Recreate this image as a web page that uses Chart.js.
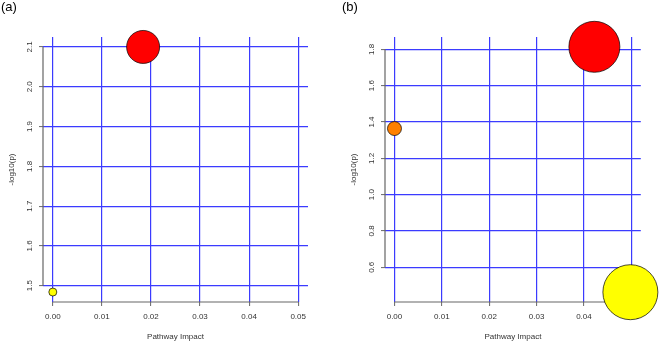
<!DOCTYPE html>
<html>
<head>
<meta charset="utf-8">
<script src="https://cdn.jsdelivr.net/npm/chart.js@4"></script>
<style>
  body { margin: 0; background: #fff; }
  .panel { position: absolute; top: 0; width: 334px; height: 342px; }
  .tag { position: absolute; top: -1px; font: 13px "Liberation Sans", Arial, sans-serif; color: #000; }
</style>
</head>
<body>
<div class="panel" style="left:0"><canvas id="chartA" width="334" height="342"></canvas></div>
<div class="panel" style="left:335px"><canvas id="chartB" width="334" height="342"></canvas></div>
<div class="tag" style="left:1px">(a)</div>
<div class="tag" style="left:342px">(b)</div>
<script>
// panel (a)
const impactA = [0.0, 0.0184];
const logpA = [1.484, 2.1];
const xTicksA = [0, 0.01, 0.02, 0.03, 0.04, 0.05];
const yTicksA = [1.5, 1.6, 1.7, 1.8, 1.9, 2.0, 2.1];

// panel (b)
const impactB = [0.0, 0.0422, 0.0498];
const logpB = [1.364, 1.814, 0.463];
const xTicksB = [0, 0.01, 0.02, 0.03, 0.04, 0.05];
const yTicksB = [0.6, 0.8, 1.0, 1.2, 1.4, 1.6, 1.8];

// styling
const radiusA = [4, 16.5];
const colorsA = ['#ffff00', '#ff0000'];
const radiusB = [7, 25.5, 27.5];
const colorsB = ['#ff8000', '#ff0000', '#ffff00'];

const font = { family: '"Liberation Sans", Arial, sans-serif', size: 8 };
const gridBlue = '#3b3bff';

// R style axis lines: only from first to last tick
const axisLines = {
    id: 'axisLines',
    beforeDatasetsDraw(chart) {
        const ctx = chart.ctx;
        const xs = chart.scales.x, ys = chart.scales.y;
        const xt = xs.ticks, yt = ys.ticks;
        ctx.save();
        ctx.strokeStyle = '#666';
        ctx.lineWidth = 1.2;
        ctx.beginPath();
        ctx.moveTo(xs.getPixelForValue(xt[0].value), chart.chartArea.bottom);
        ctx.lineTo(xs.getPixelForValue(xt[xt.length - 1].value), chart.chartArea.bottom);
        ctx.moveTo(chart.chartArea.left, ys.getPixelForValue(yt[0].value));
        ctx.lineTo(chart.chartArea.left, ys.getPixelForValue(yt[yt.length - 1].value));
        ctx.stroke();
        ctx.restore();
    }
};

function makeChart(id, xs, ys, xTicks, yTicks, radii, colors, cfg) {
    return new Chart(document.getElementById(id), {
        type: 'scatter',
        data: {
            datasets: [{
                data: xs.map((x, i) => ({ x: x, y: ys[i] })),
                pointRadius: radii,
                pointHoverRadius: radii,
                pointBackgroundColor: colors,
                pointBorderColor: '#000',
                pointBorderWidth: 0.7,
                clip: false
            }]
        },
        options: {
            responsive: false,
            animation: false,
            events: [],
            layout: { padding: { left: 0, right: cfg.right, top: 37, bottom: 0 } },
            plugins: { legend: { display: false }, tooltip: { enabled: false } },
            scales: {
                x: {
                    type: 'linear',
                    min: -0.002,
                    max: 0.052,
                    afterBuildTicks: s => { s.ticks = xTicks.map(v => ({ value: v })); },
                    afterFit: s => { s.height = 40; },
                    border: { display: false },
                    grid: { color: gridBlue, lineWidth: 1.2, tickColor: '#666', tickWidth: 1, tickLength: 4 },
                    ticks: { font: font, color: '#333', padding: 6, maxRotation: 0,
                             callback: v => v.toFixed(2) },
                    title: { display: true, text: 'Pathway Impact', font: font, color: '#333',
                             padding: { top: 0, bottom: 0 } }
                },
                y: {
                    type: 'linear',
                    min: cfg.ymin,
                    max: cfg.ymax,
                    afterBuildTicks: s => { s.ticks = yTicks.map(v => ({ value: v })); },
                    afterFit: s => { s.width = cfg.left; },
                    border: { display: false },
                    grid: { color: gridBlue, lineWidth: 1.2, tickColor: '#666', tickWidth: 1, tickLength: 4 },
                    ticks: { font: font, color: '#333', padding: 4, minRotation: 90, maxRotation: 90,
                             crossAlign: 'center', callback: v => v.toFixed(1) },
                    title: { display: true, text: '-log10(p)', font: font, color: '#333',
                             padding: { top: cfg.titlePad, bottom: 0 } }
                }
            }
        },
        plugins: [axisLines]
    });
}

makeChart('chartA', impactA, logpA, xTicksA, yTicksA, radiusA, colorsA,
    { right: 26, left: 43, ymin: 1.459, ymax: 2.125, titlePad: 7 });
makeChart('chartB', impactB, logpB, xTicksB, yTicksB, radiusB, colorsB,
    { right: 19, left: 50, ymin: 0.409, ymax: 1.868, titlePad: 14 });
</script>
</body>
</html>
